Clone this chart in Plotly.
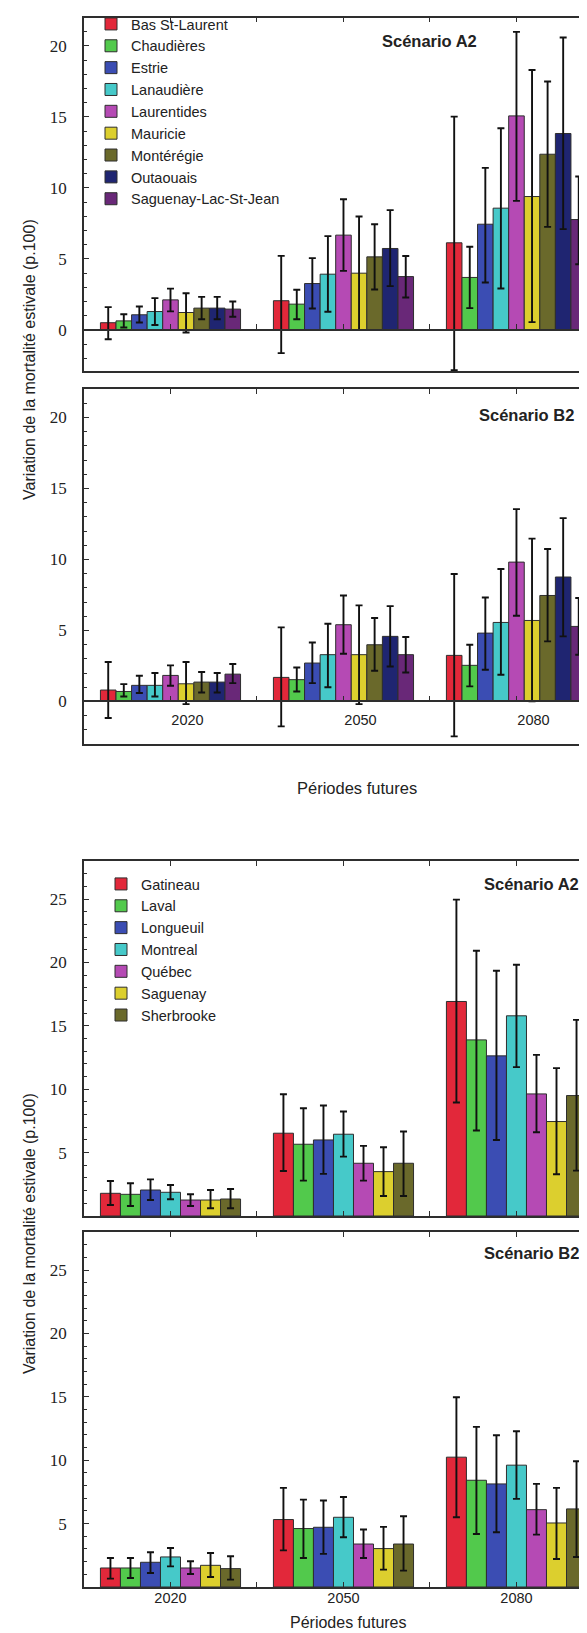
import plotly.graph_objects as go

W, H = 587, 1633
ML = 76

periods = ["2020", "2050", "2080"]

# ---------------- top figure: regions ----------------
regions = ["Bas St-Laurent", "Chaudières", "Estrie", "Lanaudière", "Laurentides",
           "Mauricie", "Montérégie", "Outaouais", "Saguenay-Lac-St-Jean"]
region_colors = ["#e2283a", "#52c94c", "#3b4db3", "#46c9c9", "#b54ab4",
                 "#dccf2e", "#6a692b", "#1f2571", "#692878"]

# values per region, for 2020 / 2050 / 2080
reg_a2_mean = [[0.50, 2.05, 6.13], [0.63, 1.81, 3.69], [1.06, 3.26, 7.44],
               [1.29, 3.92, 8.57], [2.11, 6.67, 15.07], [1.22, 3.99, 9.39],
               [1.53, 5.14, 12.37], [1.53, 5.73, 13.83], [1.46, 3.75, 7.77]]
reg_a2_hi = [[1.60, 5.21, 15.02], [1.10, 2.82, 5.85], [1.64, 5.05, 11.41],
             [2.23, 6.60, 14.20], [2.90, 9.20, 20.99], [2.58, 7.98, 18.30],
             [2.32, 7.44, 17.49], [2.32, 8.43, 20.59], [2.00, 5.20, 10.80]]
reg_a2_lo = [[-0.66, -1.64, -2.85], [0.16, 0.75, 1.53], [0.52, 1.50, 3.33],
             [0.34, 1.27, 2.91], [1.30, 4.15, 9.08], [-0.19, -0.02, 0.54],
             [0.75, 2.84, 7.25], [0.75, 3.08, 7.09], [0.92, 2.28, 4.62]]

reg_b2_mean = [[0.80, 1.69, 3.24], [0.70, 1.53, 2.54], [1.13, 2.70, 4.81],
               [1.13, 3.29, 5.56], [1.83, 5.40, 9.81], [1.24, 3.29, 5.70],
               [1.36, 3.99, 7.46], [1.36, 4.58, 8.76], [1.92, 3.29, 5.28]]
reg_b2_hi = [[2.77, 5.21, 8.97], [1.22, 2.39, 3.99], [1.81, 4.15, 7.32],
             [2.00, 5.47, 9.32], [2.54, 7.46, 13.54], [2.77, 6.76, 11.46],
             [2.07, 5.87, 10.73], [2.00, 6.71, 12.91], [2.63, 4.53, 7.28]]
reg_b2_lo = [[-1.17, -1.76, -2.46], [0.35, 0.70, 1.06], [0.59, 1.29, 2.23],
             [0.35, 1.00, 1.88], [1.10, 3.36, 6.03], [-0.19, -0.19, 0.00],
             [0.63, 2.16, 4.23], [0.63, 2.46, 4.58], [1.29, 2.04, 3.29]]

# ---------------- bottom figure: cities ----------------
cities = ["Gatineau", "Laval", "Longueuil", "Montreal", "Québec", "Saguenay", "Sherbrooke"]
city_colors = ["#e2283a", "#52c94c", "#3b4db3", "#46c9c9", "#b54ab4", "#dccf2e", "#6a692b"]

city_a2_mean = [[1.79, 6.53, 16.92], [1.71, 5.66, 13.89], [2.05, 6.00, 12.63],
                [1.87, 6.45, 15.79], [1.26, 4.16, 9.63], [1.26, 3.50, 7.45],
                [1.34, 4.16, 9.50]]
city_a2_hi = [[2.76, 9.60, 24.95], [2.58, 8.50, 20.92], [2.89, 8.71, 19.34],
              [2.45, 8.24, 19.82], [1.71, 5.53, 12.71], [2.05, 5.42, 11.66],
              [2.13, 6.66, 15.47]]
city_a2_lo = [[0.87, 3.55, 8.95], [0.79, 2.79, 6.74], [1.26, 3.32, 6.00],
              [1.32, 4.68, 11.74], [0.79, 2.79, 6.61], [0.61, 1.58, 3.29],
              [0.61, 1.58, 3.58]]

city_b2_mean = [[1.50, 5.32, 10.24], [1.50, 4.61, 8.42], [1.95, 4.71, 8.13],
                [2.37, 5.50, 9.61], [1.50, 3.39, 6.10], [1.71, 3.03, 5.05],
                [1.45, 3.39, 6.16]]
city_b2_hi = [[2.29, 7.82, 14.97], [2.29, 6.89, 12.63], [2.74, 6.82, 11.97],
              [3.08, 7.10, 12.29], [2.03, 4.53, 8.13], [2.68, 4.74, 7.82],
              [2.42, 5.58, 9.92]]
city_b2_lo = [[0.66, 2.89, 5.50], [0.71, 2.29, 4.18], [1.10, 2.61, 4.32],
              [1.63, 3.92, 6.95], [1.03, 2.29, 4.13], [0.79, 1.37, 2.21],
              [0.58, 1.29, 2.37]]

y_title = "Variation de la mortalité estivale (p.100)"
x_title = "Périodes futures"

# ---------------- helpers ----------------
def fy(px):
    return 1 - px / H

def fx(px):
    return (px - ML) / (W - ML)

SANS = "Liberation Sans, Arial, Helvetica, sans-serif"
SERIF = "Liberation Serif, Times New Roman, serif"
LC = "#2e2e2e"
TXT = "#222222"

x_idx = list(range(len(periods)))
half_ticks = [i / 2 for i in range(2 * len(periods) - 1)]
half_text = [periods[int(v)] if v == int(v) else "" for v in half_ticks]
XR = [-0.5, 2.454]

fig = go.Figure()


def add_bars(names, colors, mean, hi, lo, xa, ya, legend, show):
    for i, n in enumerate(names):
        plus = [h - m for h, m in zip(hi[i], mean[i])]
        minus = [m - l for m, l in zip(mean[i], lo[i])]
        fig.add_trace(go.Bar(
            x=x_idx, y=mean[i], name=n, xaxis=xa, yaxis=ya,
            legend=legend, showlegend=show, legendgroup=legend + n,
            marker=dict(color=colors[i], line=dict(color=LC, width=1)),
            error_y=dict(type="data", symmetric=False, array=plus, arrayminus=minus,
                         color="#111111", thickness=1.9, width=3.5),
            hoverinfo="skip",
        ))


def register_axes(xa, ya):
    # empty trace so that the frame axis (top / bottom border) is drawn
    fig.add_trace(go.Scatter(x=[], y=[], xaxis=xa, yaxis=ya, showlegend=False,
                             hoverinfo="skip", mode="markers"))


add_bars(regions, region_colors, reg_a2_mean, reg_a2_hi, reg_a2_lo, "x", "y", "legend", True)
add_bars(regions, region_colors, reg_b2_mean, reg_b2_hi, reg_b2_lo, "x4", "y2", "legend", False)
add_bars(cities, city_colors, city_a2_mean, city_a2_hi, city_a2_lo, "x7", "y3", "legend2", True)
add_bars(cities, city_colors, city_b2_mean, city_b2_hi, city_b2_lo, "x9", "y4", "legend2", False)
for xa, ya in [("x2", "y"), ("x3", "y"), ("x5", "y2"), ("x6", "y2"), ("x8", "y3"), ("x10", "y4")]:
    register_axes(xa, ya)

# panel domains (pixel rows) and y ranges
dom1 = [fy(363), fy(9.5)]
dom2 = [fy(736), fy(381)]
dom3 = [fy(1208), fy(853)]
dom4 = [fy(1579), fy(1224)]
yr_top = [-2.9, 22]
yr_top2 = [-3.0, 22]
yr_bot = [0, 28]


def zero_pos(dom, yr):
    return dom[0] + (0 - yr[0]) / (yr[1] - yr[0]) * (dom[1] - dom[0])


base_x = dict(range=XR, showgrid=False, zeroline=False, showline=True,
              linecolor=LC, linewidth=1.5, tickcolor=LC, tickwidth=1.3,
              fixedrange=True, tickvals=half_ticks)


def x_main(**kw):
    d = dict(base_x)
    d.update(kw)
    return d


def y_axis(dom, yr, major, **kw):
    d = dict(domain=dom, range=yr, showgrid=False, zeroline=False, showline=True,
             linecolor=LC, linewidth=1.5, ticks="inside", ticklen=5, tickwidth=1.3,
             tickcolor=LC, tickvals=major, ticktext=[str(v) for v in major],
             tickfont=dict(family=SERIF, size=17, color=TXT), ticklabelstandoff=12,
             minor=dict(ticks="inside", ticklen=3.5, tickwidth=1, tickcolor=LC, dtick=1, tick0=0),
             fixedrange=True)
    d.update(kw)
    return d


fig.update_layout(
    # panel 1 (regions, A2)
    xaxis=x_main(domain=[0, 1], anchor="free", position=zero_pos(dom1, yr_top),
                 ticks="inside", ticklen=5, showticklabels=False),
    xaxis2=x_main(overlaying="x", anchor="y", side="top", ticks="inside", ticklen=5,
                  showticklabels=False),
    xaxis3=x_main(overlaying="x", anchor="y", side="bottom", ticks="", showticklabels=False),
    yaxis=y_axis(dom1, yr_top, [0, 5, 10, 15, 20], anchor="x"),
    # panel 2 (regions, B2)
    xaxis4=x_main(domain=[0, 1], anchor="free", position=zero_pos(dom2, yr_top2),
                  ticks="inside", ticklen=5, ticktext=half_text,
                  tickfont=dict(family=SANS, size=14.5, color=TXT),
                  ticklabelshift=17, ticklabelstandoff=5),
    xaxis5=x_main(overlaying="x4", anchor="y2", side="top", ticks="inside", ticklen=5,
                  showticklabels=False),
    xaxis6=x_main(overlaying="x4", anchor="y2", side="bottom", ticks="", showticklabels=False),
    yaxis2=y_axis(dom2, yr_top2, [0, 5, 10, 15, 20], anchor="x4"),
    # panel 3 (cities, A2)
    xaxis7=x_main(domain=[0, 1], anchor="y3", side="bottom", ticks="inside", ticklen=5,
                  showticklabels=False),
    xaxis8=x_main(overlaying="x7", anchor="y3", side="top", ticks="inside", ticklen=5,
                  showticklabels=False),
    yaxis3=y_axis(dom3, yr_bot, [5, 10, 15, 20, 25], anchor="x7"),
    # panel 4 (cities, B2)
    xaxis9=x_main(domain=[0, 1], anchor="y4", side="bottom", ticks="inside", ticklen=5,
                  ticktext=half_text, tickfont=dict(family=SANS, size=14.5, color=TXT),
                  ticklabelstandoff=-3),
    xaxis10=x_main(overlaying="x9", anchor="y4", side="top", ticks="inside", ticklen=5,
                   showticklabels=False),
    yaxis4=y_axis(dom4, yr_bot, [5, 10, 15, 20, 25], anchor="x9"),
    barmode="group", bargap=0.19, bargroupgap=0,
    width=W, height=H, autosize=False,
    margin=dict(l=ML, r=0, t=0, b=0, pad=0),
    paper_bgcolor="white", plot_bgcolor="white",
    font=dict(family=SANS, color=TXT),
    legend=dict(x=fx(83), y=fy(0), xanchor="left", yanchor="top",
                bgcolor="rgba(0,0,0,0)", borderwidth=0, tracegroupgap=0,
                font=dict(family=SANS, size=14.5, color=TXT)),
    legend2=dict(x=fx(93), y=fy(860), xanchor="left", yanchor="top",
                 bgcolor="rgba(0,0,0,0)", borderwidth=0, tracegroupgap=0,
                 font=dict(family=SANS, size=14.5, color=TXT)),
)

scen_font = dict(family=SANS, size=16.5, color=TXT, weight="bold")
ann = [
    dict(text="Scénario A2", x=fx(421), y=fy(33), font=scen_font),
    dict(text="Scénario B2", x=fx(518), y=fy(407), font=scen_font),
    dict(text="Scénario A2", x=fx(523), y=fy(876), font=scen_font),
    dict(text="Scénario B2", x=fx(523), y=fy(1245), font=scen_font),
    dict(text=y_title, x=fx(21), y=fy(352), textangle=-90,
         font=dict(family=SANS, size=16, color=TXT)),
    dict(text=y_title, x=fx(21), y=fy(1226), textangle=-90,
         font=dict(family=SANS, size=16, color=TXT)),
    dict(text=x_title, x=fx(349), y=fy(780), font=dict(family=SANS, size=16.5, color=TXT)),
    dict(text=x_title, x=fx(340), y=fy(1614), font=dict(family=SANS, size=16, color=TXT)),
]
for a in ann:
    a.update(xref="paper", yref="paper", xanchor="center", yanchor="middle", showarrow=False)
fig.update_layout(annotations=ann)

fig.write_html("out.html")
